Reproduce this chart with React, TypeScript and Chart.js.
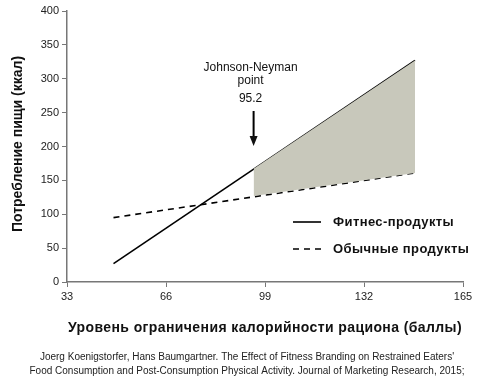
import React, { useEffect, useRef } from "react";
import { Chart, registerables } from "chart.js";

Chart.register(...registerables);

const xTicks = [33, 66, 99, 132, 165];
const yTicks = [0, 50, 100, 150, 200, 250, 300, 350, 400];

const fitnessX = [48.5, 149];
const fitnessY = [27, 327];
const regularX = [48.5, 149];
const regularY = [95, 161];

const jnPoint = 95.2;
const regionUpperX = [95.2, 149];
const regionUpperY = [167, 327];
const regionLowerX = [95.2, 149];
const regionLowerY = [127, 161];

const yTitle = "Потребление пищи (ккал)";
const xTitle = "Уровень ограничения калорийности рациона (баллы)";
const legendLabels = ["Фитнес-продукты", "Обычные продукты"];
const annotationLines = ["Johnson-Neyman", "point", "95.2"];
const sourceLines = [
  "Joerg Koenigstorfer, Hans Baumgartner. The Effect of Fitness Branding on Restrained Eaters'",
  "Food Consumption and Post-Consumption Physical Activity. Journal of Marketing Research, 2015;",
];

const FONT = "'Liberation Sans', Arial, sans-serif";

const pts = (xs: number[], ys: number[]) => xs.map((x, i) => ({ x, y: ys[i] }));

const overlay = {
  id: "overlay",
  afterDraw(chart: any) {
    const ctx = chart.ctx as CanvasRenderingContext2D;
    const xs = chart.scales.x;
    ctx.save();
    ctx.fillStyle = "#111";
    ctx.textAlign = "center";
    ctx.textBaseline = "middle";
    // Annotation
    const ax = xs.getPixelForValue(jnPoint);
    ctx.font = `12px ${FONT}`;
    ctx.fillText(annotationLines[0], ax - 3, 68);
    ctx.fillText(annotationLines[1], ax - 3, 81);
    ctx.fillText(annotationLines[2], ax - 3, 99);
    // Arrow
    ctx.strokeStyle = "#000";
    ctx.lineWidth = 2;
    ctx.beginPath();
    ctx.moveTo(ax, 111);
    ctx.lineTo(ax, 138);
    ctx.stroke();
    ctx.beginPath();
    ctx.moveTo(ax - 4, 136);
    ctx.lineTo(ax + 4, 136);
    ctx.lineTo(ax, 146);
    ctx.closePath();
    ctx.fill();

    // Legend
    ctx.lineWidth = 1.6;
    ctx.strokeStyle = "#000";
    ctx.beginPath();
    ctx.moveTo(293, 222);
    ctx.lineTo(321, 222);
    ctx.stroke();
    ctx.setLineDash([6, 5]);
    ctx.beginPath();
    ctx.moveTo(293, 249);
    ctx.lineTo(321, 249);
    ctx.stroke();
    ctx.setLineDash([]);
    ctx.textAlign = "left";
    ctx.font = `bold 13px ${FONT}`;
    (ctx as any).letterSpacing = "0.4px";
    ctx.fillText(legendLabels[0], 333, 222);
    ctx.fillText(legendLabels[1], 333, 249);

    // Axis titles
    ctx.font = `bold 14px ${FONT}`;
    (ctx as any).letterSpacing = "0.4px";
    ctx.textAlign = "center";
    ctx.fillText(xTitle, 265, 328);
    (ctx as any).letterSpacing = "0px";
    ctx.save();
    ctx.translate(18, 144);
    ctx.rotate(-Math.PI / 2);
    ctx.fillText(yTitle, 0, 0);
    ctx.restore();

    // Source
    ctx.font = `10px ${FONT}`;
    ctx.fillStyle = "#222";
    ctx.fillText(sourceLines[0], 247, 357);
    ctx.fillText(sourceLines[1], 247, 371);
    ctx.restore();
  },
};

export default function App() {
  const ref = useRef<HTMLCanvasElement>(null);
  useEffect(() => {
    document.body.style.margin = "0";
    const chart = new Chart(ref.current!, {
      type: "scatter",
      data: {
        datasets: [
          {
            label: "region-lower",
            data: pts(regionLowerX, regionLowerY),
            showLine: true,
            borderWidth: 0,
            borderColor: "rgba(0,0,0,0)",
            pointRadius: 0,
            fill: false,
          },
          {
            label: "region-upper",
            data: pts(regionUpperX, regionUpperY),
            showLine: true,
            borderWidth: 0,
            borderColor: "rgba(0,0,0,0)",
            backgroundColor: "#c8c8bb",
            pointRadius: 0,
            fill: 0,
          },
          {
            label: legendLabels[0],
            data: pts(fitnessX, fitnessY),
            showLine: true,
            borderColor: "#000",
            borderWidth: 1.6,
            pointRadius: 0,
            fill: false,
          },
          {
            label: legendLabels[1],
            data: pts(regularX, regularY),
            showLine: true,
            borderColor: "#000",
            borderWidth: 1.6,
            borderDash: [6, 5],
            pointRadius: 0,
            fill: false,
          },
        ],
      },
      options: {
        animation: false,
        responsive: false,
        layout: { padding: { top: 11, right: 31, left: 0, bottom: 0 } },
        plugins: { legend: { display: false }, tooltip: { enabled: false } },
        scales: {
          x: {
            type: "linear",
            min: 33,
            max: 165,
            afterBuildTicks: (s: any) => {
              s.ticks = xTicks.map((v) => ({ value: v }));
            },
            afterFit: (s: any) => {
              s.height = 101;
            },
            grid: { drawOnChartArea: false, tickLength: 5, color: "#777" },
            border: { color: "#777", width: 1.5 },
            ticks: { color: "#222", font: { size: 11, family: FONT }, padding: 3, maxRotation: 0 },
          },
          y: {
            type: "linear",
            min: 0,
            max: 400,
            afterBuildTicks: (s: any) => {
              s.ticks = yTicks.map((v) => ({ value: v }));
            },
            afterFit: (s: any) => {
              s.width = 67;
            },
            grid: { drawOnChartArea: false, tickLength: 5, color: "#777" },
            border: { color: "#777", width: 1.5 },
            ticks: { color: "#222", font: { size: 11, family: FONT }, padding: 3 },
          },
        },
      },
      plugins: [overlay],
    });
    return () => chart.destroy();
  }, []);
  return <canvas ref={ref} width={494} height={383} style={{ display: "block" }} />;
}
